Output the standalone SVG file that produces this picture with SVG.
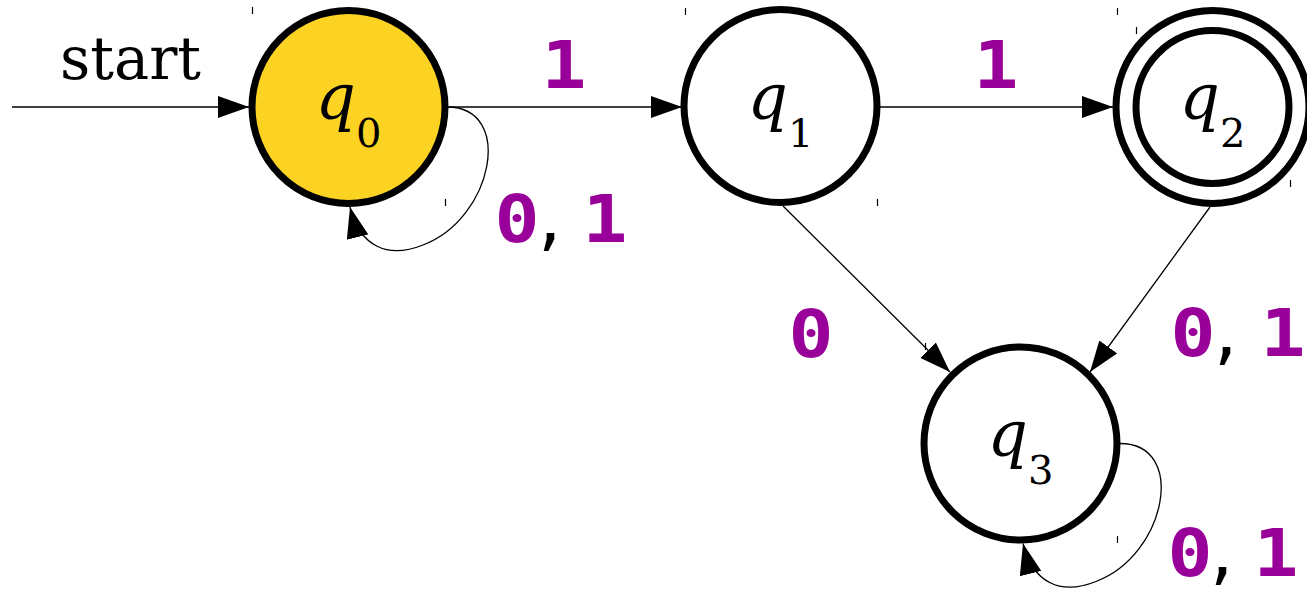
<svg xmlns="http://www.w3.org/2000/svg" width="1307" height="590" viewBox="0 0 1307 590">
<style>
.node{fill:#fff;stroke:#000;stroke-width:7}
.start{fill:#fdd323}
.edge{fill:none;stroke:#000;stroke-width:1.3;marker-end:url(#arr)}
.st{font-family:"DejaVu Serif",serif;font-size:63px;font-style:italic;fill:#000}
.sub{font-style:normal;font-size:40px}
.lbl{font-family:"DejaVu Sans Mono",monospace;font-weight:bold;font-size:65px;fill:#990099}
.cm{font-family:"DejaVu Sans",sans-serif;font-weight:normal;font-size:74px;fill:#000}
.startlbl{font-family:"DejaVu Serif",serif;font-size:59px;fill:#000}
.tick{stroke:#000;stroke-width:1.2}
</style>
<defs>
<marker id="arr" viewBox="0 0 31 22" refX="31" refY="11" markerWidth="31" markerHeight="22" markerUnits="userSpaceOnUse" orient="auto">
<path d="M0,0 L31,11 L0,22 z" fill="#000"/>
</marker>
</defs>
<g id="connectors">
<path class="edge" d="M12,107 L249,107"/>
<path class="edge" d="M449,107 L682,107"/>
<path class="edge" d="M879,107 L1113,107"/>
<path class="edge" d="M783,206 L950,372"/>
<path class="edge" d="M1210,207 L1090,372"/>
<path class="edge" d="M447,107 C515,107 493,219 423,245 C388,259 360,247 350,207"/>
<path class="edge" d="M1120,443.5 C1188,443.5 1166,555.5 1096,581.5 C1061,595.5 1033,583.5 1023,543.5"/>
</g>
<g id="labels">
<text class="startlbl" x="60" y="79">start</text>
<text class="lbl" transform="translate(541.5,88) scale(1.15,1)">1</text>
<text class="lbl" transform="translate(973.5,88) scale(1.15,1)">1</text>
<text class="lbl" transform="translate(788.5,357) scale(1.15,1)">0</text>
<g id="lbl-q0-loop">
<text class="lbl" transform="translate(494.5,242) scale(1.15,1)">0</text>
<text class="cm" x="538" y="242">,</text>
<text class="lbl" transform="translate(582.5,242) scale(1.15,1)">1</text>
</g>
<g id="lbl-q2-q3">
<text class="lbl" transform="translate(1170.5,356) scale(1.15,1)">0</text>
<text class="cm" x="1214" y="356">,</text>
<text class="lbl" transform="translate(1260.5,356) scale(1.15,1)">1</text>
</g>
<g id="lbl-q3-loop">
<text class="lbl" transform="translate(1167.5,576) scale(1.15,1)">0</text>
<text class="cm" x="1210" y="576">,</text>
<text class="lbl" transform="translate(1253.5,576) scale(1.15,1)">1</text>
</g>
</g>
<g id="q0">
<circle class="node start" cx="348.5" cy="107" r="96.5"/>
<text class="st" x="348.5" y="119" text-anchor="middle">q<tspan class="sub" dy="28">0</tspan></text>
</g>
<g id="q1">
<circle class="node" cx="780.5" cy="106" r="96.5"/>
<text class="st" x="780.5" y="119" text-anchor="middle">q<tspan class="sub" dy="28">1</tspan></text>
</g>
<g id="q2">
<circle class="node" cx="1212.5" cy="107" r="96.5"/>
<circle class="node" cx="1212.5" cy="107" r="76.5"/>
<text class="st" x="1212.5" y="119" text-anchor="middle">q<tspan class="sub" dy="28">2</tspan></text>
</g>
<g id="q3">
<circle class="node" cx="1020.5" cy="443.5" r="96.5"/>
<text class="st" x="1020.5" y="456" text-anchor="middle">q<tspan class="sub" dy="28">3</tspan></text>
</g>
<g id="ticks">
<line class="tick" x1="252.5" y1="7" x2="252.5" y2="14"/>
<line class="tick" x1="685.5" y1="8" x2="685.5" y2="15"/>
<line class="tick" x1="1117.5" y1="8" x2="1117.5" y2="15"/>
<line class="tick" x1="1136.5" y1="27" x2="1136.5" y2="34"/>
<line class="tick" x1="445.5" y1="199" x2="445.5" y2="206"/>
<line class="tick" x1="877.5" y1="199" x2="877.5" y2="206"/>
<line class="tick" x1="1290.5" y1="180" x2="1290.5" y2="187"/>
<line class="tick" x1="925.5" y1="343" x2="925.5" y2="350"/>
<line class="tick" x1="1117.5" y1="536" x2="1117.5" y2="543"/>
</g>
</svg>
